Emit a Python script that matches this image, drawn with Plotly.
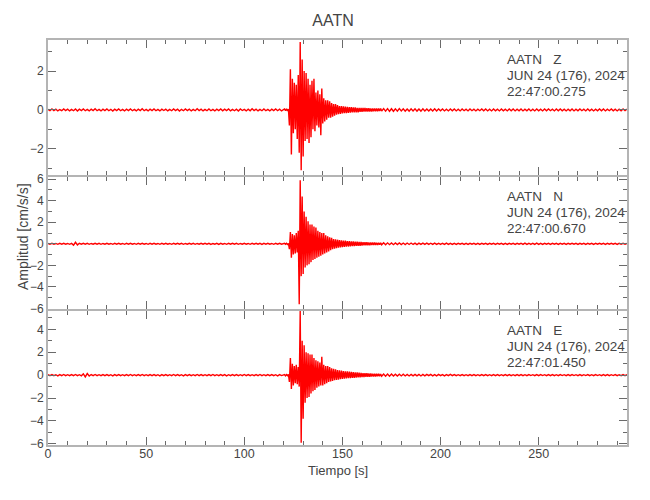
import numpy as np
import plotly.graph_objects as go
from plotly.subplots import make_subplots

station = "AATN"
components = ["Z", "N", "E"]
date_label = "JUN 24 (176), 2024"
start_times = ["22:47:00.275", "22:47:00.670", "22:47:01.450"]
x_label = "Tiempo [s]"
y_label = "Amplitud [cm/s/s]"

# sampling of the hand-read traces (seconds)
pre_start, pre_step = 0.0, 1.0      # 0 .. 119 s
evt_start, evt_step = 120.5, 0.5    # 120.5 .. 170 s
post_start, post_step = 171.0, 1.0  # 171 .. 295 s

# ---- Z component (cm/s/s) ----
z_pre = [0.03, -0.04, 0.05, -0.03, 0.04, -0.05, 0.02, -0.04, 0.05, -0.03,
         0.04, -0.05, 0.03, -0.04, 0.05, -0.06, 0.04, -0.03, 0.05, -0.04,
         0.03, -0.05, 0.04, -0.03, 0.06, -0.04, 0.03, -0.05, 0.04, -0.03,
         0.05, -0.04, 0.03, -0.06, 0.04, -0.03, 0.05, -0.04, 0.03, -0.05,
         0.04, -0.03, 0.05, -0.04, 0.03, -0.05, 0.04, -0.03, 0.06, -0.04,
         0.03, -0.05, 0.04, -0.03, 0.05, -0.04, 0.03, -0.05, 0.04, -0.03,
         0.04, -0.05, 0.03, -0.04, 0.05, -0.03, 0.04, -0.06, 0.03, -0.04,
         0.05, -0.03, 0.04, -0.05, 0.03, -0.04, 0.06, -0.03, 0.04, -0.05,
         0.03, -0.04, 0.05, -0.04, 0.03, -0.05, 0.04, -0.03, 0.05, -0.04,
         0.04, -0.03, 0.05, -0.05, 0.03, -0.04, 0.04, -0.06, 0.05, -0.03,
         0.03, -0.05, 0.04, -0.04, 0.06, -0.03, 0.04, -0.05, 0.03, -0.04,
         0.05, -0.04, 0.03, -0.05, 0.04, -0.03, 0.05, -0.04, 0.04, -0.05]
z_evt = [0.05, -0.04, 0.06, -0.05, 0.04, -0.8, 2.1, -2.3, 1.6, -1.2,
         1.4, -1.0, 1.3, -1.5, 1.8, -2.2, 3.5, -3.1, 2.6, -2.4,
         2.0, -1.6, 1.9, -1.5, 1.6, -1.7, 1.3, -1.4, 1.5, -1.0,
         1.6, -1.1, 0.9, -0.8, 1.0, -0.9, 0.8, -1.3, 1.1, -0.7,
         0.6, -0.6, 0.5, -0.5, 0.5, -0.4, 0.45, -0.4, 0.35, -0.35,
         0.3, -0.3, 0.3, -0.25, 0.25, -0.22, 0.2, -0.2, 0.2, -0.18,
         0.18, -0.17, 0.17, -0.16, 0.16, -0.15, 0.15, -0.14, 0.15, -0.13,
         0.13, -0.12, 0.13, -0.12, 0.11, -0.12, 0.11, -0.1, 0.11, -0.1,
         0.1, -0.09, 0.1, -0.09, 0.09, -0.08, 0.09, -0.08, 0.08, -0.08,
         0.08, -0.07, 0.08, -0.07, 0.07, -0.07, 0.07, -0.06, 0.07, -0.06]
z_post = [0.07, -0.06, 0.07, -0.07, 0.06, -0.07, 0.06, -0.06, 0.07, -0.05,
          0.06, -0.06, 0.05, -0.06, 0.06, -0.05, 0.06, -0.06, 0.05, -0.06,
          0.06, -0.05, 0.05, -0.06, 0.05, -0.05, 0.06, -0.05, 0.05, -0.04,
          0.05, -0.05, 0.04, -0.05, 0.05, -0.04, 0.05, -0.05, 0.04, -0.05,
          0.05, -0.04, 0.04, -0.05, 0.05, -0.04, 0.04, -0.05, 0.04, -0.04,
          0.05, -0.04, 0.05, -0.05, 0.04, -0.05, 0.05, -0.04, 0.04, -0.05,
          0.05, -0.04, 0.04, -0.05, 0.05, -0.04, 0.05, -0.05, 0.04, -0.04,
          0.05, -0.05, 0.04, -0.04, 0.05, -0.05, 0.04, -0.05, 0.05, -0.04,
          0.04, -0.05, 0.05, -0.04, 0.05, -0.04, 0.04, -0.05, 0.05, -0.04,
          0.05, -0.04, 0.04, -0.05, 0.04, -0.04, 0.05, -0.05, 0.04, -0.04,
          0.05, -0.04, 0.04, -0.05, 0.05, -0.04, 0.04, -0.05, 0.04, -0.04,
          0.05, -0.04, 0.05, -0.05, 0.04, -0.04, 0.05, -0.04, 0.04, -0.05,
          0.04, -0.05, 0.05, -0.04, 0.04]

# ---- N component ----
n_pre = [0.04, -0.03, 0.05, -0.04, 0.03, -0.05, 0.04, -0.03, 0.05, -0.04,
         0.03, -0.05, 0.04, -0.12, 0.14, -0.10, 0.05, -0.04, 0.05, -0.03,
         0.04, -0.05, 0.03, -0.04, 0.05, -0.03, 0.04, -0.05, 0.03, -0.04,
         0.05, -0.04, 0.03, -0.05, 0.04, -0.03, 0.05, -0.04, 0.03, -0.05,
         0.04, -0.03, 0.05, -0.04, 0.03, -0.05, 0.04, -0.03, 0.05, -0.04,
         0.03, -0.05, 0.04, -0.03, 0.05, -0.04, 0.03, -0.05, 0.04, -0.03,
         0.05, -0.04, 0.03, -0.05, 0.04, -0.04, 0.05, -0.03, 0.04, -0.05,
         0.03, -0.04, 0.05, -0.03, 0.04, -0.05, 0.03, -0.04, 0.05, -0.04,
         0.04, -0.03, 0.05, -0.05, 0.03, -0.04, 0.04, -0.05, 0.05, -0.03,
         0.03, -0.05, 0.04, -0.04, 0.05, -0.03, 0.04, -0.05, 0.03, -0.04,
         0.05, -0.04, 0.03, -0.05, 0.04, -0.03, 0.05, -0.04, 0.04, -0.05,
         0.04, -0.03, 0.05, -0.04, 0.03, -0.05, 0.04, -0.04, 0.05, -0.04]
n_evt = [0.05, -0.04, 0.05, -0.06, 0.04, -0.5, 1.1, -1.3, 0.9, -1.0,
         0.8, -0.9, 1.0, -0.8, 1.2, -5.6, 5.9, -3.0, 4.4, -2.8,
         3.0, -2.2, 2.5, -2.0, 2.1, -1.9, 1.8, -1.7, 1.8, -1.5,
         1.6, -1.4, 1.5, -1.3, 1.2, -1.2, 1.1, -1.1, 1.0, -1.0,
         1.0, -0.9, 0.8, -0.8, 0.7, -0.7, 0.6, -0.6, 0.55, -0.5,
         0.45, -0.45, 0.42, -0.4, 0.38, -0.36, 0.35, -0.33, 0.32, -0.3,
         0.3, -0.28, 0.3, -0.27, 0.26, -0.25, 0.25, -0.24, 0.23, -0.22,
         0.22, -0.21, 0.2, -0.2, 0.19, -0.19, 0.18, -0.18, 0.18, -0.17,
         0.16, -0.15, 0.15, -0.14, 0.14, -0.13, 0.13, -0.13, 0.12, -0.12,
         0.11, -0.11, 0.11, -0.1, 0.1, -0.1, 0.1, -0.09, 0.09, -0.09]
n_post = [0.09, -0.08, 0.09, -0.08, 0.08, -0.08, 0.08, -0.07, 0.08, -0.07,
          0.07, -0.07, 0.07, -0.06, 0.07, -0.06, 0.06, -0.07, 0.06, -0.06,
          0.06, -0.05, 0.06, -0.06, 0.05, -0.06, 0.06, -0.05, 0.05, -0.06,
          0.05, -0.05, 0.06, -0.05, 0.05, -0.05, 0.04, -0.05, 0.05, -0.04,
          0.05, -0.05, 0.04, -0.05, 0.05, -0.04, 0.05, -0.05, 0.04, -0.05,
          0.05, -0.04, 0.04, -0.05, 0.05, -0.04, 0.05, -0.05, 0.04, -0.04,
          0.05, -0.05, 0.04, -0.05, 0.05, -0.04, 0.04, -0.05, 0.05, -0.04,
          0.05, -0.06, 0.06, -0.05, 0.05, -0.06, 0.05, -0.05, 0.06, -0.05,
          0.04, -0.05, 0.05, -0.04, 0.04, -0.05, 0.05, -0.04, 0.05, -0.05,
          0.04, -0.04, 0.05, -0.05, 0.04, -0.04, 0.05, -0.04, 0.04, -0.05,
          0.05, -0.04, 0.04, -0.05, 0.04, -0.04, 0.05, -0.05, 0.04, -0.04,
          0.05, -0.04, 0.04, -0.05, 0.05, -0.04, 0.04, -0.04, 0.05, -0.05,
          0.04, -0.04, 0.05, -0.04, 0.04]

# ---- E component ----
e_pre = [0.05, -0.04, 0.06, -0.05, 0.04, -0.06, 0.05, -0.04, 0.06, -0.05,
         0.04, -0.05, 0.05, -0.04, 0.06, -0.05, 0.04, -0.06, 0.12, -0.15,
         0.14, -0.08, 0.05, -0.04, 0.06, -0.05, 0.04, -0.05, 0.05, -0.04,
         0.05, -0.05, 0.04, -0.06, 0.05, -0.04, 0.05, -0.05, 0.04, -0.05,
         0.05, -0.04, 0.06, -0.05, 0.04, -0.05, 0.05, -0.04, 0.06, -0.05,
         0.04, -0.05, 0.05, -0.04, 0.05, -0.05, 0.04, -0.06, 0.05, -0.04,
         0.05, -0.05, 0.04, -0.05, 0.06, -0.04, 0.05, -0.05, 0.04, -0.06,
         0.05, -0.04, 0.05, -0.05, 0.04, -0.05, 0.06, -0.04, 0.05, -0.05,
         0.04, -0.05, 0.05, -0.04, 0.06, -0.05, 0.04, -0.05, 0.05, -0.04,
         0.05, -0.06, 0.04, -0.05, 0.05, -0.04, 0.05, -0.05, 0.04, -0.05,
         0.06, -0.04, 0.05, -0.05, 0.04, -0.05, 0.05, -0.04, 0.06, -0.05,
         0.04, -0.05, 0.05, -0.04, 0.05, -0.05, 0.04, -0.06, 0.05, -0.04]
e_evt = [0.05, -0.06, 0.05, -0.04, 0.06, -0.6, 1.5, -1.2, 1.0, -0.9,
         0.8, -0.7, 0.9, -0.8, 0.7, -1.0, 5.6, -5.9, 3.0, -3.8,
         2.6, -2.4, 2.0, -2.0, 1.9, -1.9, 1.8, -1.6, 1.8, -1.4,
         1.5, -1.3, 1.3, -1.1, 1.2, -1.0, 1.1, -0.9, 1.6, -0.9,
         0.9, -0.8, 0.8, -0.7, 0.8, -0.6, 0.7, -0.55, 0.6, -0.5,
         0.55, -0.45, 0.5, -0.42, 0.45, -0.4, 0.42, -0.35, 0.4, -0.33,
         0.36, -0.3, 0.34, -0.28, 0.32, -0.27, 0.3, -0.26, 0.28, -0.25,
         0.26, -0.23, 0.25, -0.22, 0.23, -0.2, 0.22, -0.19, 0.2, -0.18,
         0.18, -0.16, 0.17, -0.15, 0.16, -0.14, 0.15, -0.14, 0.14, -0.13,
         0.13, -0.12, 0.12, -0.11, 0.12, -0.1, 0.11, -0.1, 0.1, -0.1]
e_post = [0.1, -0.09, 0.09, -0.09, 0.09, -0.08, 0.08, -0.08, 0.08, -0.07,
          0.08, -0.07, 0.07, -0.07, 0.07, -0.06, 0.07, -0.06, 0.06, -0.07,
          0.06, -0.06, 0.06, -0.05, 0.06, -0.06, 0.05, -0.06, 0.06, -0.05,
          0.05, -0.06, 0.05, -0.05, 0.06, -0.05, 0.05, -0.05, 0.04, -0.05,
          0.05, -0.05, 0.04, -0.05, 0.05, -0.04, 0.05, -0.05, 0.04, -0.05,
          0.05, -0.04, 0.05, -0.05, 0.04, -0.05, 0.05, -0.04, 0.05, -0.05,
          0.04, -0.05, 0.05, -0.04, 0.05, -0.05, 0.04, -0.05, 0.05, -0.04,
          0.05, -0.05, 0.04, -0.05, 0.05, -0.04, 0.04, -0.05, 0.05, -0.04,
          0.05, -0.04, 0.04, -0.05, 0.05, -0.04, 0.05, -0.05, 0.04, -0.05,
          0.05, -0.04, 0.04, -0.05, 0.05, -0.04, 0.05, -0.04, 0.04, -0.05,
          0.05, -0.05, 0.04, -0.04, 0.05, -0.05, 0.04, -0.05, 0.05, -0.04,
          0.04, -0.05, 0.05, -0.04, 0.05, -0.05, 0.04, -0.04, 0.05, -0.05,
          0.04, -0.05, 0.05, -0.04, 0.05]

traces = [(z_pre, z_evt, z_post), (n_pre, n_evt, n_post), (e_pre, e_evt, e_post)]
y_ranges = [[-3.35, 3.6], [-6.05, 6.2], [-6.1, 5.6]]
x_range = [0, 295]


def seg_times(start, step, n):
    return start + step * np.arange(n)


FONT = "Liberation Sans, Arial, sans-serif"
AXIS_COLOR = "#b4b4b4"
TICK_COLOR = "#6a6a6a"
TEXT_COLOR = "#444444"

PLOT_H = 405.0  # plot-area height in px
PLOT_W = 579.0
fig = make_subplots(rows=3, cols=1, shared_xaxes=True, vertical_spacing=0)

for i, (pre, evt, post) in enumerate(traces):
    t = np.concatenate([seg_times(pre_start, pre_step, len(pre)),
                        seg_times(evt_start, evt_step, len(evt)),
                        seg_times(post_start, post_step, len(post))])
    v = np.concatenate([pre, evt, post])
    fig.add_trace(go.Scatter(x=t, y=v, mode="lines",
                             line=dict(color="#ff0000", width=1.4),
                             showlegend=False, hoverinfo="skip"),
                  row=i + 1, col=1)

# panel edges in px from the plot-area top (2 px gaps so the axis lines coincide)
panel_px = [(0, 135), (137, 269), (271, 405)]
domains = [[(PLOT_H - b) / PLOT_H, (PLOT_H - a) / PLOT_H] for a, b in panel_px]
text_offsets = [19, 35, 51]

for i in range(3):
    n = "" if i == 0 else str(i + 1)
    fig.layout["xaxis" + n].update(
        range=x_range, tick0=0, dtick=50, ticks="inside", ticklen=8,
        tickcolor=TICK_COLOR, tickwidth=1, showline=True, linecolor=AXIS_COLOR,
        linewidth=2, mirror="ticks", showgrid=False, zeroline=False,
        minor=dict(ticks="inside", dtick=10, ticklen=4, tickcolor=TICK_COLOR, showgrid=False),
        tickfont=dict(family=FONT, size=12.5, color=TEXT_COLOR),
        showticklabels=(i == 2), automargin=False, ticklabelstandoff=-4,
    )
    fig.layout["yaxis" + n].update(
        range=y_ranges[i], domain=domains[i], tick0=0, dtick=2, ticks="inside",
        ticklen=8, tickcolor=TICK_COLOR, tickwidth=1, showline=True,
        linecolor=AXIS_COLOR, linewidth=2, mirror="ticks", showgrid=False,
        zeroline=False, automargin=False,
        minor=dict(ticks="inside", dtick=1, ticklen=4, tickcolor=TICK_COLOR, showgrid=False),
        tickfont=dict(family=FONT, size=12, color=TEXT_COLOR),
    )
    yref = "y domain" if i == 0 else "y%d domain" % (i + 1)
    xref = "x domain" if i == 0 else "x%d domain" % (i + 1)
    height = panel_px[i][1] - panel_px[i][0]
    lines = [station + "\u00a0\u00a0\u00a0" + components[i], date_label, start_times[i]]
    for k, txt in enumerate(lines):
        fig.add_annotation(
            text=txt, xref=xref, yref=yref, x=0.79, y=1 - text_offsets[k] / height,
            xanchor="left", yanchor="middle", align="left", showarrow=False,
            font=dict(family=FONT, size=13.5, color=TEXT_COLOR),
        )

fig.add_annotation(text=x_label, xref="paper", yref="paper", x=0.5, y=-25 / PLOT_H,
                   xanchor="center", yanchor="middle", showarrow=False,
                   font=dict(family=FONT, size=13, color=TEXT_COLOR))
fig.add_annotation(text=y_label, xref="paper", yref="paper", x=-25 / PLOT_W,
                   y=(445 - 237) / PLOT_H,
                   xanchor="center", yanchor="middle", textangle=-90, showarrow=False,
                   font=dict(family=FONT, size=14, color=TEXT_COLOR))

fig.update_layout(
    width=650, height=500,
    margin=dict(l=40, r=31, t=32, b=63),
    paper_bgcolor="white", plot_bgcolor="white",
    title=dict(text=station, x=(333 - 8) / 650, xanchor="center", y=1 - 12 / 500,
               yanchor="middle", font=dict(family=FONT, size=16, color=TEXT_COLOR)),
    showlegend=False,
)

fig.write_html("out.html")
